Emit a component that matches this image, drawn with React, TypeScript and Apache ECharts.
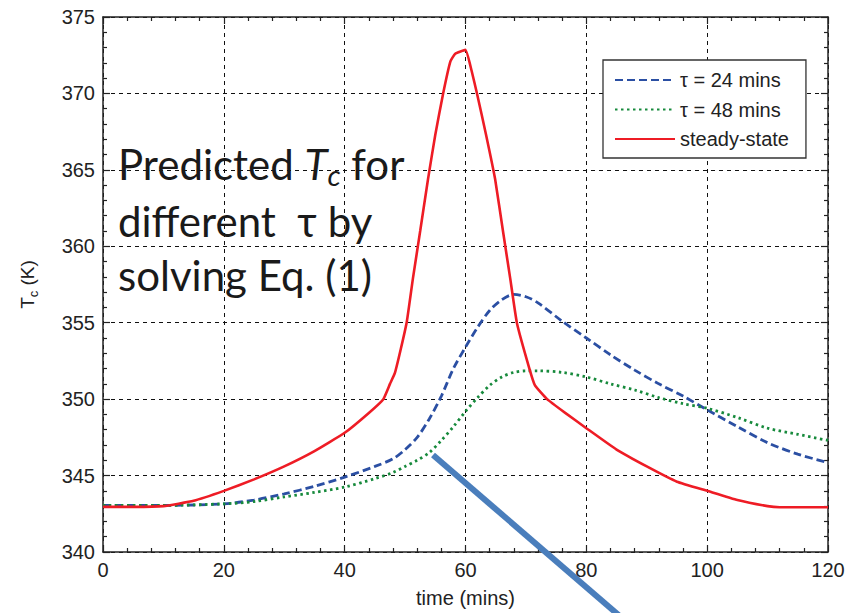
import React, { useEffect, useRef } from "react";
import * as echarts from "echarts";

const xTicks = [0, 20, 40, 60, 80, 100, 120];
const yTicks = [340, 345, 350, 355, 360, 365, 370, 375];

const seriesNames = ["τ = 24 mins", "τ = 48 mins", "steady-state"];

const tauTime = [0, 10, 20, 25, 30, 35, 40, 45, 48, 50, 52, 54, 56, 58, 60, 62, 64, 66, 68, 70, 72, 76, 80, 84, 88, 92, 96, 100, 105, 110, 115, 120];
const tau24 = [343.05, 343.05, 343.15, 343.4, 343.8, 344.3, 344.9, 345.6, 346.1, 346.7, 347.5, 348.7, 350.2, 352.0, 353.4, 354.7, 355.8, 356.5, 356.85, 356.7, 356.3, 355.1, 354.0, 352.9, 351.9, 351.0, 350.2, 349.3, 348.2, 347.15, 346.4, 345.85];
const tau48 = [343.05, 343.05, 343.15, 343.3, 343.6, 343.9, 344.25, 344.8, 345.2, 345.6, 346.0, 346.5, 347.3, 348.2, 349.2, 350.1, 350.9, 351.45, 351.75, 351.85, 351.85, 351.75, 351.45, 351.0, 350.6, 350.1, 349.7, 349.4, 348.8, 348.1, 347.7, 347.3];

const ssTime = [0, 5, 10, 15, 20, 25, 30, 35, 40, 44, 46.4, 47.5, 48.3, 49.3, 50.3, 51.3, 52.5, 53.8, 55, 56.3, 57.5, 58.3, 60, 61, 61.9, 63.4, 64.9, 66.2, 67.4, 68.5, 70.5, 71.5, 73.5, 76.5, 80, 85, 90, 95, 100, 105, 110, 112, 120];
const ssTemp = [342.95, 342.95, 343.0, 343.35, 344.0, 344.75, 345.6, 346.6, 347.8, 349.1, 350.0, 351.0, 351.7, 353.3, 355.1, 357.9, 361.0, 364.4, 367.3, 370.0, 372.1, 372.6, 372.85, 371.5, 370.0, 367.3, 364.4, 361.0, 357.9, 355.0, 352.1, 350.9, 350.0, 349.1, 348.1, 346.7, 345.6, 344.6, 344.0, 343.4, 343.0, 342.93, 342.93];

const zip = (xs: number[], ys: number[]) => xs.map((x, i) => [x, ys[i]]);

const FONT = "'Liberation Sans', Arial, sans-serif";
const NOTE_FONT = "Lato, sans-serif";

export default function App() {
  const ref = useRef<HTMLDivElement>(null);
  useEffect(() => {
    if (!ref.current) return;
    const chart = echarts.init(ref.current, undefined, { renderer: "svg" });
    const axisLine = { show: true, onZero: false, lineStyle: { color: "#222", width: 1.5 } };
    const tick = { show: true, inside: true, length: 7, lineStyle: { color: "#222", width: 1.2 } };
    const minor = { show: true, splitNumber: 5, length: 4, lineStyle: { color: "#222", width: 1.2 } };
    const baseX = {
      type: "value" as const,
      min: xTicks[0],
      max: xTicks[xTicks.length - 1],
      interval: 20,
      axisLine,
      axisTick: tick,
      minorTick: minor,
    };
    const baseY = {
      type: "value" as const,
      min: yTicks[0],
      max: yTicks[yTicks.length - 1],
      interval: 5,
      axisLine,
      axisTick: tick,
      minorTick: minor,
    };
    chart.setOption({
      animation: false,
      backgroundColor: "#fff",
      grid: { left: 103, right: 26, top: 17, bottom: 58, containLabel: false },
      legend: {
        show: true,
        orient: "vertical",
        left: 603,
        top: 60,
        itemWidth: 60,
        itemHeight: 14,
        itemGap: 9.5,
        padding: [10, 17, 9, 11],
        backgroundColor: "#fff",
        borderColor: "#333",
        borderWidth: 1.3,
        itemStyle: { opacity: 0 },
        textStyle: { fontSize: 20, fontFamily: FONT, color: "#222", lineHeight: 20 },
        data: seriesNames,
      },
      xAxis: [
        {
          ...baseX,
          position: "bottom",
          name: "time (mins)",
          nameLocation: "middle",
          nameGap: 36,
          nameTextStyle: { fontSize: 20, fontFamily: FONT, color: "#222" },
          axisLabel: { fontSize: 20, fontFamily: FONT, color: "#222", margin: 8 },
          splitLine: { show: true, lineStyle: { color: "#111", width: 1, type: [4, 4] } },
        },
        {
          ...baseX,
          position: "top",
          axisLabel: { show: false },
          splitLine: { show: false },
        },
      ],
      yAxis: [
        {
          ...baseY,
          position: "left",
          name: "{a|T}{s|c}{a| (K)}",
          nameLocation: "middle",
          nameGap: 63,
          nameRotate: 90,
          nameTextStyle: {
            fontFamily: FONT,
            color: "#222",
            rich: {
              a: { fontSize: 19, fontFamily: FONT, color: "#222" },
              s: { fontSize: 13, fontFamily: FONT, color: "#222", padding: [12, 0, 0, 0] },
            },
          },
          axisLabel: { fontSize: 20, fontFamily: FONT, color: "#222", margin: 8 },
          splitLine: { show: true, lineStyle: { color: "#111", width: 1, type: [4, 4] } },
        },
        {
          ...baseY,
          position: "right",
          axisLabel: { show: false },
          splitLine: { show: false },
        },
      ],
      series: [
        {
          name: seriesNames[0],
          type: "line",
          data: zip(tauTime, tau24),
          smooth: 0.3,
          symbol: "none",
          lineStyle: { color: "#2b4fa3", width: 2.8, type: [8, 4] },
          itemStyle: { color: "#2b4fa3" },
          z: 3,
        },
        {
          name: seriesNames[1],
          type: "line",
          data: zip(tauTime, tau48),
          smooth: 0.3,
          symbol: "none",
          lineStyle: { color: "#178a3c", width: 2.8, type: [2.5, 3.5] },
          itemStyle: { color: "#178a3c" },
          z: 3,
        },
        {
          name: seriesNames[2],
          type: "line",
          data: zip(ssTime, ssTemp),
          smooth: 0.12,
          symbol: "none",
          lineStyle: { color: "#ee1c25", width: 2.6 },
          itemStyle: { color: "#ee1c25" },
          z: 4,
        },
      ],
      graphic: [
        {
          type: "line",
          shape: { x1: 433, y1: 455, x2: 622, y2: 618 },
          style: { stroke: "#4a7ebc", lineWidth: 6 },
          z: 10,
        },
        {
          type: "text",
          left: 118,
          top: 143,
          style: {
            text: "{a|Predicted }{i|T}{s|c}{a| for}",
            rich: {
              a: { fontSize: 42, fontFamily: NOTE_FONT, fill: "#1a1a1a" },
              i: { fontSize: 42, fontFamily: NOTE_FONT, fontStyle: "italic", fill: "#1a1a1a" },
              s: { fontSize: 29, fontFamily: NOTE_FONT, fontStyle: "italic", fill: "#1a1a1a", padding: [20, 0, 0, 0] },
            },
          },
          z: 9,
        },
        {
          type: "text",
          left: 118,
          top: 200,
          style: { text: "different  τ by", fontSize: 42, fontFamily: NOTE_FONT, fill: "#1a1a1a" },
          z: 9,
        },
        {
          type: "text",
          left: 118,
          top: 254,
          style: { text: "solving Eq. (1)", fontSize: 42, fontFamily: NOTE_FONT, fill: "#1a1a1a" },
          z: 9,
        },
      ],
    });
    return () => chart.dispose();
  }, []);
  return <div ref={ref} style={{ width: 854, height: 613, position: "absolute", left: 0, top: 0 }} />;
}
